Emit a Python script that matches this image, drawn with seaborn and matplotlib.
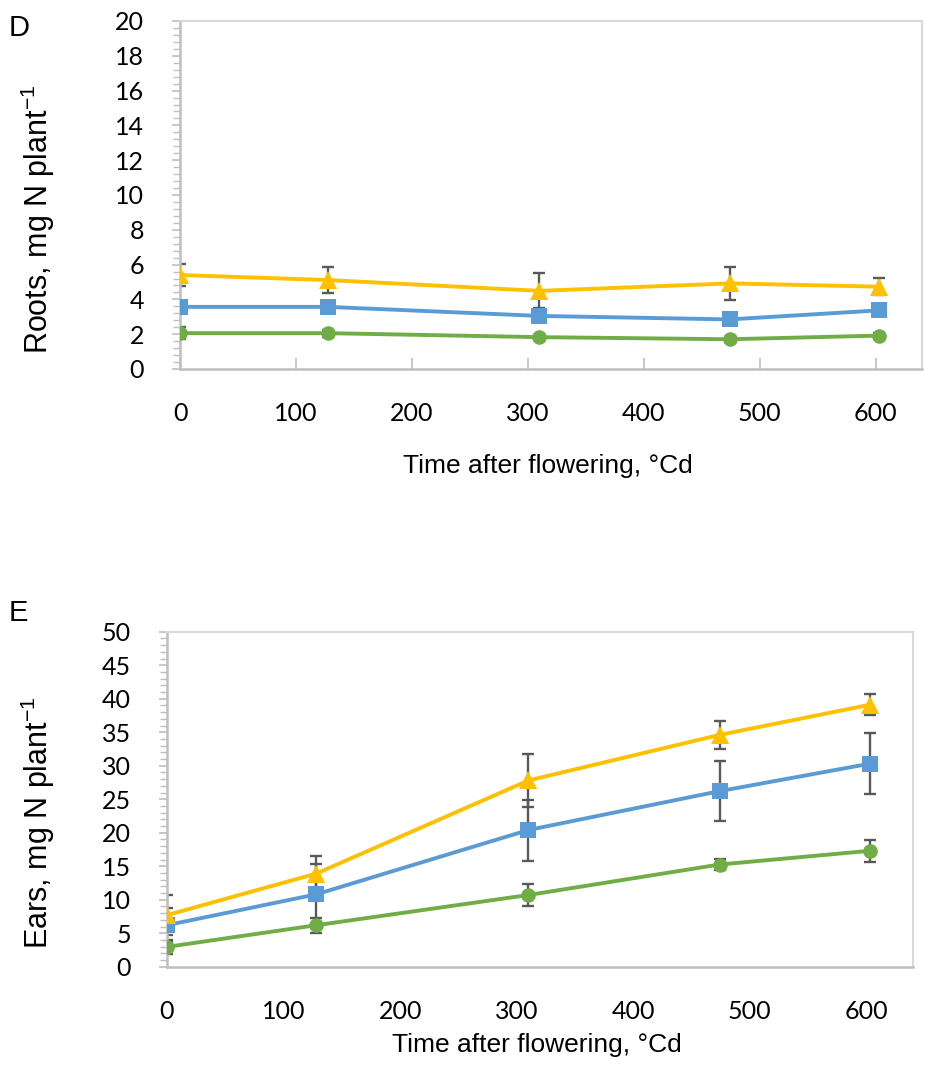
import numpy as np
import pandas as pd
import matplotlib
matplotlib.use("Agg")
import matplotlib.pyplot as plt
from matplotlib.ticker import MultipleLocator
import seaborn as sns

# Thermal time after flowering (°Cd)
time_cd = [0, 128, 310, 474, 603]
series = ["N1", "N2", "N3"]
colors = {"N1": "#70AD47", "N2": "#5B9BD5", "N3": "#FFC000"}
markers = {"N1": "o", "N2": "s", "N3": "^"}
msizes = {"N1": 10.5, "N2": 11, "N3": 12.5}

# Panel D: N in roots, mg N plant-1
roots_n1 = [2.06, 2.06, 1.83, 1.71, 1.92]
roots_n2 = [3.57, 3.57, 3.05, 2.85, 3.37]
roots_n3 = [5.40, 5.11, 4.49, 4.92, 4.73]
roots_n1_err = [0.35, 0.2, 0.15, 0.15, 0.15]
roots_n2_err = [0.3, 0.2, 0.2, 0.2, 0.2]
roots_n3_err = [0.64, 0.75, 1.0, 0.95, 0.5]

# Panel E: N in ears, mg N plant-1
ears_n1 = [2.96, 6.19, 10.7, 15.25, 17.3]
ears_n2 = [6.2, 10.8, 20.4, 26.2, 30.3]
ears_n3 = [7.7, 13.9, 27.8, 34.6, 39.1]
ears_n1_err = [1.0, 1.1, 1.65, 0.8, 1.65]
ears_n2_err = [2.5, 4.5, 4.55, 4.5, 4.55]
ears_n3_err = [3.0, 2.6, 3.9, 2.05, 1.6]

sns.set_theme(style="white")
plt.rcParams["font.family"] = ["Lato", "DejaVu Sans"]
plt.rcParams["mathtext.fontset"] = "custom"
plt.rcParams["mathtext.rm"] = "Liberation Sans"
plt.rcParams["text.color"] = "black"

ARIAL = ["Liberation Sans", "DejaVu Sans"]

fig = plt.figure(figsize=(9.26, 10.66), dpi=100)
ax_d = fig.add_axes([180 / 926, 1 - 369 / 1066, 742 / 926, 348 / 1066])
ax_e = fig.add_axes([167 / 926, 1 - 966.7 / 1066, 746 / 926, 335 / 1066])


def frame(vals, errs):
    rows = []
    for s, v, e in zip(series, vals, errs):
        for t, y, err in zip(time_cd, v, e):
            rows.append({"time": t, "value": y, "err": err, "series": s})
    return pd.DataFrame(rows)


def draw(ax, data, ymax, major, minor, ylabel, letter, xticks_in, xlabel_y,
         letter_y):
    for s in series:
        sub = data[data["series"] == s]
        ax.errorbar(sub["time"], sub["value"], yerr=sub["err"], fmt="none",
                    ecolor="#595959", elinewidth=1.7, capsize=4.2,
                    capthick=1.7, zorder=1)
    sns.lineplot(data=data, x="time", y="value", hue="series", style="series",
                 palette=colors, markers=markers, dashes=False, sort=False,
                 linewidth=2.8, markeredgewidth=0, legend=False, ax=ax,
                 zorder=3)
    for line, s in zip(ax.get_lines()[-len(series):], series):
        line.set_markersize(msizes[s])

    ax.set_xlim(0, 640)
    ax.set_ylim(0, ymax)
    ax.set_xticks(np.arange(0, 601, 100))
    ax.yaxis.set_major_locator(MultipleLocator(major))
    ax.yaxis.set_minor_locator(MultipleLocator(minor))

    for side in ["left", "bottom"]:
        ax.spines[side].set_color("#BFBFBF")
        ax.spines[side].set_linewidth(1.8)
    for side in ["top", "right"]:
        ax.spines[side].set_color("#D9D9D9")
        ax.spines[side].set_linewidth(1.5)

    ax.tick_params(axis="y", which="major", direction="out", length=6,
                   width=1.2, color="#BFBFBF", left=True, labelsize=18,
                   labelcolor="black", pad=20)
    ax.tick_params(axis="y", which="minor", direction="out", length=5,
                   width=1.0, color="#BFBFBF", left=True)
    if xticks_in:
        ax.tick_params(axis="x", which="major", direction="in", length=8,
                       width=1.2, color="#BFBFBF", bottom=True)
    else:
        ax.tick_params(axis="x", which="major", length=0)
    ax.tick_params(axis="x", labelsize=18, labelcolor="black", pad=24)

    ax.set_xlabel("")
    ax.set_ylabel("")
    ax.grid(False)

    pos = ax.get_position()
    fig.text(0.5 * (pos.x0 + pos.x1) - 0.003, 1 - xlabel_y / 1066,
             "Time after flowering, °Cd", ha="center", va="center",
             fontsize=19, color="black", family=ARIAL)
    fig.text(38 / 926, pos.y0 + pos.height * 0.43, ylabel, rotation=90,
             ha="center", va="center", fontsize=22, color="black",
             family=ARIAL)
    fig.text(9 / 926, 1 - letter_y / 1066, letter, ha="left", va="center",
             fontsize=21, color="black", family=ARIAL)


roots = frame([roots_n1, roots_n2, roots_n3],
              [roots_n1_err, roots_n2_err, roots_n3_err])
ears = frame([ears_n1, ears_n2, ears_n3],
             [ears_n1_err, ears_n2_err, ears_n3_err])

draw(ax_d, roots, 20, 2, 0.4, r"Roots, mg N plant$^{\mathregular{-1}}$", "D",
     True, 466, 28)
draw(ax_e, ears, 50, 5, 1, r"Ears, mg N plant$^{\mathregular{-1}}$", "E",
     False, 1045, 613)

fig.savefig("out.png", dpi=100)
